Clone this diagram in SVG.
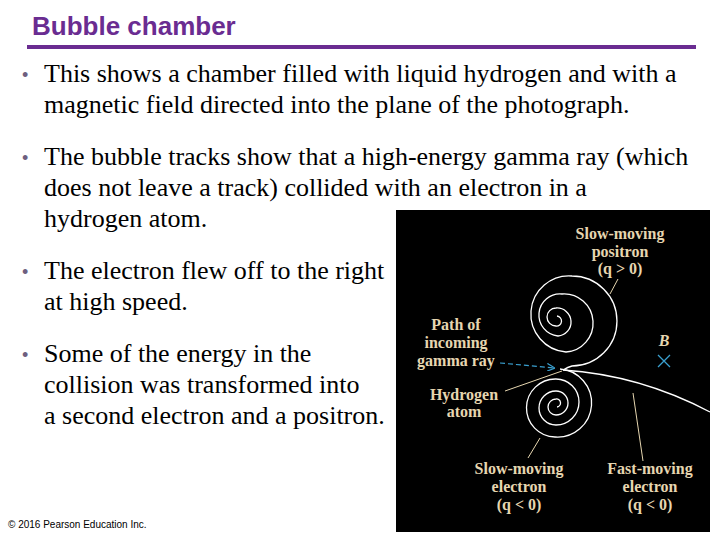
<svg xmlns="http://www.w3.org/2000/svg" width="720" height="540" viewBox="0 0 720 540">
<style>
.b{font-family:"Liberation Serif",serif;font-size:26px;fill:#000}
.d{font-family:"Liberation Sans",sans-serif;font-size:18px;fill:#6e5f80}
.l{font-family:"Liberation Serif",serif;font-size:16px;font-weight:bold;fill:#e6d6b0;text-anchor:middle}
.t{fill:none;stroke:#fff;stroke-width:1.3}
.ld{fill:none;stroke:#e6d6b0;stroke-width:1}
</style>
<defs><marker id="ah" markerWidth="8" markerHeight="8" refX="7" refY="4" orient="auto" markerUnits="userSpaceOnUse"><path d="M0,0 L8,4 L0,8" fill="none" stroke="#3aa0d0" stroke-width="1.2"/></marker></defs>
<rect width="720" height="540" fill="#fff"/>
<g id="title"><text x="32" y="35" font-family="Liberation Sans,sans-serif" font-size="26" font-weight="bold" fill="#6a2c91">Bubble chamber</text>
<rect x="27" y="45" width="669" height="4" fill="#6a2c91"/></g>
<g id="bullets">
<text class="d" x="22" y="81">•</text><text class="b" x="44" y="82">This shows a chamber filled with liquid hydrogen and with a</text>
<text class="b" x="44" y="113">magnetic field directed into the plane of the photograph.</text>
<text class="d" x="22" y="164">•</text><text class="b" x="44" y="165">The bubble tracks show that a high-energy gamma ray (which</text>
<text class="b" x="44" y="196">does not leave a track) collided with an electron in a</text>
<text class="b" x="44" y="227">hydrogen atom.</text>
<text class="d" x="22" y="278">•</text><text class="b" x="44" y="279">The electron flew off to the right</text>
<text class="b" x="44" y="310">at high speed.</text>
<text class="d" x="22" y="361">•</text><text class="b" x="44" y="362">Some of the energy in the</text>
<text class="b" x="44" y="393">collision was transformed into</text>
<text class="b" x="44" y="424">a second electron and a positron.</text>
<text x="8" y="528" font-family="Liberation Sans,sans-serif" font-size="10" fill="#000">© 2016 Pearson Education Inc.</text>
</g>
<g id="photo">
<rect x="396" y="210" width="314" height="322" fill="#000"/>
<path class="t" d="M563,370 Q568,367 572,366 A45,45 0 0 0 572,276 A38,38 0 0 0 566,352 A29,29 0 0 0 562,294 A21,21 0 0 0 558,336 A14,14 0 0 0 556,308 A9,9 0 0 0 556,326 A5,5 0 0 0 557,316"/>
<path class="t" d="M560,369 A34,34 0 0 1 555,437 A29,29 0 0 1 556,379 A23,23 0 0 1 556,425 A17,17 0 0 1 556,391 A12,12 0 0 1 556,415 A8,8 0 0 1 556,399 A4,4 0 0 1 557,407"/>
<path class="t" d="M563,370 Q640,375 710,412"/>
<path d="M500,363 L554,368" stroke="#3aa0d0" stroke-width="1.2" stroke-dasharray="5,3" fill="none" marker-end="url(#ah)"/>
<path d="M658,355 L670,367 M670,355 L658,367" stroke="#3aa0d0" stroke-width="1.3"/>
<text class="l" x="664" y="346" font-style="italic">B</text>
<path class="ld" d="M618,279 L610,294 M505,391 L562,371 M528,458 L540,438 M643,461 L633,393"/>
<text class="l" x="620" y="239">Slow-moving</text><text class="l" x="620" y="257">positron</text><text class="l" x="620" y="274">(q  &gt;  0)</text>
<text class="l" x="456" y="330">Path of</text><text class="l" x="456" y="348">incoming</text><text class="l" x="456" y="366">gamma ray</text>
<text class="l" x="464" y="400">Hydrogen</text><text class="l" x="464" y="417">atom</text>
<text class="l" x="519" y="474">Slow-moving</text><text class="l" x="519" y="492">electron</text><text class="l" x="519" y="510">(q  &lt;  0)</text>
<text class="l" x="650" y="474">Fast-moving</text><text class="l" x="650" y="492">electron</text><text class="l" x="650" y="510">(q  &lt;  0)</text>
</g>
</svg>
